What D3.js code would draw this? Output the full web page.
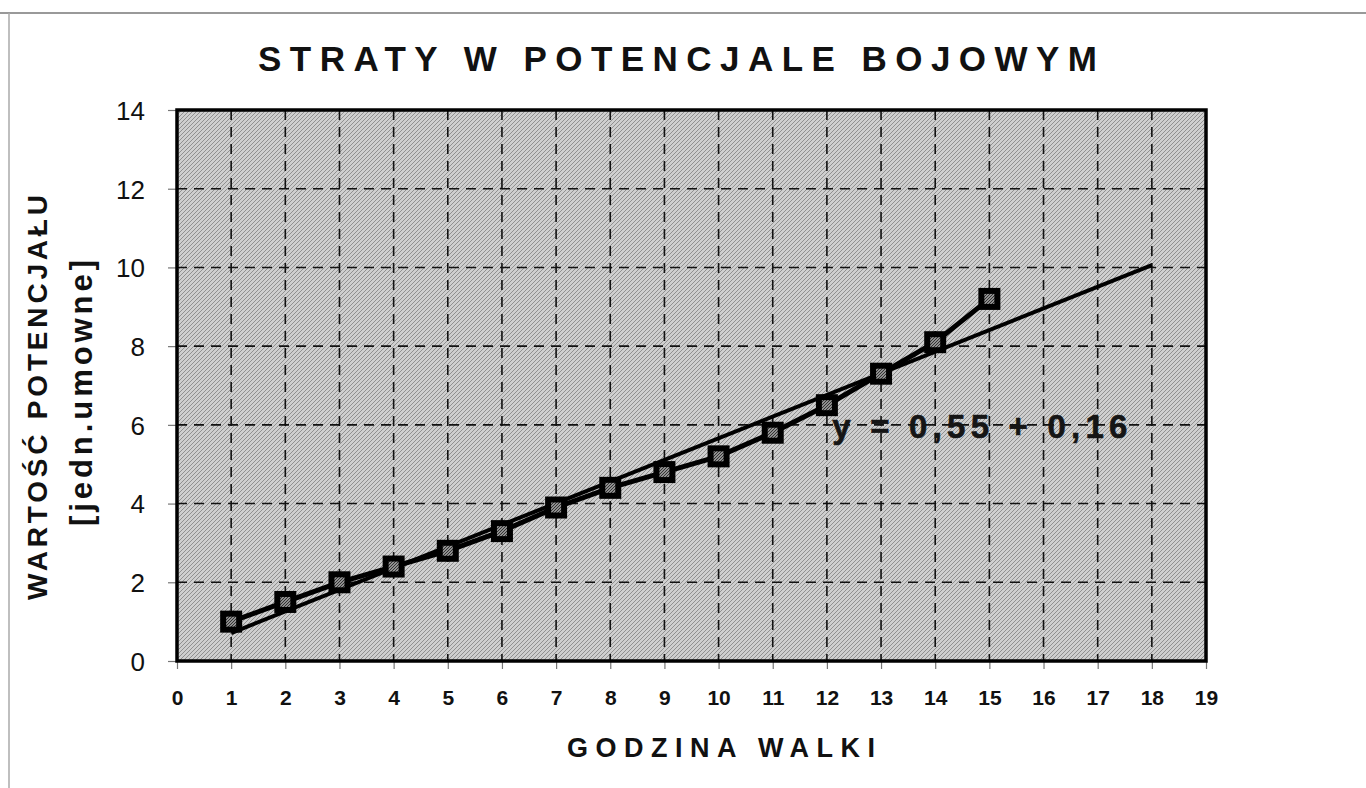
<!DOCTYPE html>
<html><head><meta charset="utf-8">
<script src="https://cdn.jsdelivr.net/npm/d3@7/dist/d3.min.js"></script>
<style>html,body{margin:0;padding:0;background:#fff;}svg{display:block;}</style>
</head><body>
<script>
const hours = [1,2,3,4,5,6,7,8,9,10,11,12,13,14,15];
const values = [1.0,1.5,2.0,2.4,2.8,3.3,3.9,4.4,4.8,5.2,5.8,6.5,7.3,8.1,9.2];
const trendX = [1,18];
const trendY = [0.71,10.06];
const xTicks = [0,1,2,3,4,5,6,7,8,9,10,11,12,13,14,15,16,17,18,19];
const yTicks = [0,2,4,6,8,10,12,14];
const titleText = "STRATY W POTENCJALE BOJOWYM";
const xLabel = "GODZINA WALKI";
const yLabel1 = "WARTOŚĆ POTENCJAŁU";
const yLabel2 = "[jedn.umowne]";
const equation = "y = 0,55 + 0,16";

const W = 1366, H = 788;
const m = {left:177, right:1206, top:110, bottom:661};
const FONT = "Liberation Sans, Arial, sans-serif";
const svg = d3.select("body").append("svg").attr("width",W).attr("height",H);
const defs = svg.append("defs");
const pat = defs.append("pattern").attr("id","bg").attr("patternUnits","userSpaceOnUse").attr("width",4).attr("height",4);
pat.append("rect").attr("width",4).attr("height",4).attr("fill","#cfcfcf");
pat.append("path").attr("d","M0,4 L4,0 M-1,1 L1,-1 M3,5 L5,3").attr("stroke","#909090").attr("stroke-width",1);
const pat2 = defs.append("pattern").attr("id","mk").attr("patternUnits","userSpaceOnUse").attr("width",3).attr("height",3);
pat2.append("rect").attr("width",3).attr("height",3).attr("fill","#909090");
pat2.append("path").attr("d","M0,3 L3,0").attr("stroke","#333").attr("stroke-width",1);

const x = d3.scaleLinear().domain([0,19]).range([m.left,m.right]);
const y = d3.scaleLinear().domain([0,14]).range([m.bottom,m.top]);

// outer frame
svg.append("line").attr("x1",0).attr("x2",W).attr("y1",13).attr("y2",13).attr("stroke","#777").attr("stroke-width",1.5);
svg.append("line").attr("x1",9).attr("x2",9).attr("y1",13).attr("y2",H).attr("stroke","#aaa").attr("stroke-width",1.5);

// plot background
svg.append("rect").attr("x",m.left).attr("y",m.top).attr("width",m.right-m.left).attr("height",m.bottom-m.top).attr("fill","url(#bg)");

// grid
const g = svg.append("g");
g.selectAll(".vg").data(xTicks.filter(d=>d>0&&d<19)).enter().append("line")
 .attr("x1",d=>x(d)).attr("x2",d=>x(d)).attr("y1",m.top).attr("y2",m.bottom)
 .attr("stroke","#111").attr("stroke-width",1.6).attr("stroke-dasharray","10,7");
g.selectAll(".hg").data(yTicks.filter(d=>d>0&&d<14)).enter().append("line")
 .attr("x1",m.left).attr("x2",m.right).attr("y1",d=>y(d)).attr("y2",d=>y(d))
 .attr("stroke","#111").attr("stroke-width",1.6).attr("stroke-dasharray","10,7");

// axes
const xAxis = d3.axisBottom(x).tickValues(xTicks).tickSize(8).tickFormat(d3.format("d"));
const gx = svg.append("g").attr("transform",`translate(0,${m.bottom})`).call(xAxis);
gx.select(".domain").remove();
gx.selectAll(".tick line").attr("stroke","#777").attr("stroke-width",1.2);
gx.selectAll(".tick text").attr("font-family",FONT).attr("font-weight","bold").attr("font-size",21).attr("fill","#111").attr("dy","1.55em");

const yAxis = d3.axisLeft(y).tickValues(yTicks).tickSize(9).tickFormat(d3.format("d"));
const gy = svg.append("g").attr("transform",`translate(${m.left},0)`).call(yAxis);
gy.select(".domain").remove();
gy.selectAll(".tick line").attr("stroke","#777").attr("stroke-width",1.2);
gy.selectAll(".tick text").attr("font-family",FONT).attr("font-size",26).attr("fill","#111").attr("x",-32).attr("dy","0.36em");

// border
svg.append("rect").attr("x",m.left).attr("y",m.top).attr("width",m.right-m.left).attr("height",m.bottom-m.top).attr("fill","none").attr("stroke","#000").attr("stroke-width",3.5);

// trend line
const lineGen = d3.line().x(d=>x(d[0])).y(d=>y(d[1]));
svg.append("path").datum(trendX.map((d,i)=>[d,trendY[i]])).attr("d",lineGen).attr("fill","none").attr("stroke","#000").attr("stroke-width",4);

// data line
const pts = hours.map((d,i)=>[d,values[i]]);
svg.append("path").datum(pts).attr("d",lineGen).attr("fill","none").attr("stroke","#000").attr("stroke-width",5);

// equation
svg.append("text").attr("x",x(12.1)).attr("y",y(5.67)).attr("font-family",FONT).attr("font-weight","bold").attr("font-size",33).attr("fill","#151515")
 .attr("stroke","#151515").attr("stroke-width",0.6)
 .attr("textLength",295).attr("lengthAdjust","spacing").text(equation);

// markers
svg.selectAll(".mk").data(pts).enter().append("rect")
 .attr("x",d=>x(d[0])-8).attr("y",d=>y(d[1])-8).attr("width",16).attr("height",16)
 .attr("fill","url(#mk)").attr("stroke","#000").attr("stroke-width",6);

// title
svg.append("text").attr("x",258).attr("y",71).attr("font-family",FONT).attr("font-weight","bold").attr("font-size",35).attr("fill","#111")
 .attr("textLength",839).attr("lengthAdjust","spacing").text(titleText);

// x label
svg.append("text").attr("x",567).attr("y",757).attr("font-family",FONT).attr("font-weight","bold").attr("font-size",27).attr("fill","#111")
 .attr("textLength",308).attr("lengthAdjust","spacing").text(xLabel);

// y labels
svg.append("text").attr("transform","translate(47,600) rotate(-90)").attr("font-family",FONT).attr("font-weight","bold").attr("font-size",28).attr("fill","#111")
 .attr("textLength",405).attr("lengthAdjust","spacing").text(yLabel1);
svg.append("text").attr("transform","translate(92,526) rotate(-90)").attr("font-family",FONT).attr("font-weight","bold").attr("font-size",31).attr("fill","#111")
 .attr("textLength",266).attr("lengthAdjust","spacing").text(yLabel2);
</script>
</body></html>
